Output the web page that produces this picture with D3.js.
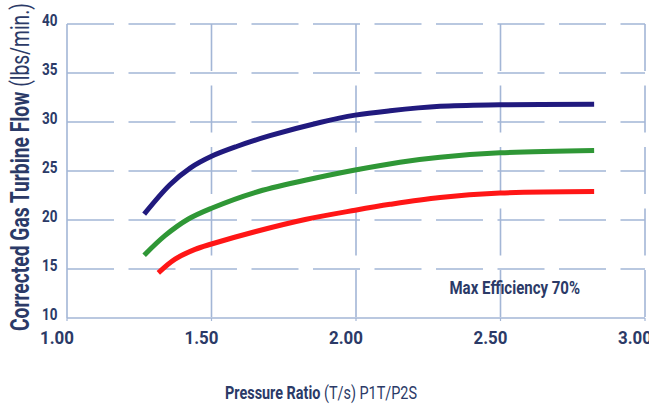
<!DOCTYPE html>
<html lang="en">
<head>
    <meta charset="UTF-8">
    <title>Corrected Gas Turbine Flow</title>
    <script type="text/javascript" src="https://cdn.jsdelivr.net/npm/d3@7"></script>
    <style type="text/css">
        body { margin: 0; background: #fff; }
        text { font-family: Roboto, "Liberation Sans", sans-serif; fill: #2b3a67; }
    </style>
</head>
<body>
    <script type="text/javascript">
        //Width and height
        var w = 649;
        var h = 406;
        var margin = { top: 24, right: 4, bottom: 88, left: 67 };

        //Data (pressure ratio, flow)
        var blueX  = [1.267, 1.356, 1.426, 1.50, 1.587, 1.702, 1.875, 1.997, 2.118, 2.291, 2.498, 2.824];
        var blueY  = [20.6, 23.6, 25.3, 26.5, 27.5, 28.6, 29.95, 30.7, 31.15, 31.6, 31.75, 31.8];
        var greenX = [1.267, 1.339, 1.42, 1.50, 1.65, 1.824, 1.997, 2.152, 2.291, 2.498, 2.824];
        var greenY = [16.4, 18.4, 20.1, 21.2, 22.8, 24.05, 25.1, 25.9, 26.4, 26.85, 27.1];
        var redX   = [1.316, 1.374, 1.443, 1.50, 1.65, 1.824, 1.997, 2.118, 2.291, 2.498, 2.824];
        var redY   = [14.6, 16.0, 17.0, 17.55, 18.8, 20.05, 21.0, 21.6, 22.3, 22.75, 22.9];

        var xTicks = [1.0, 1.5, 2.0, 2.5, 3.0];
        var yTicks = [10, 15, 20, 25, 30, 35, 40];

        var series = [
            { xs: blueX,  ys: blueY,  color: "#211a7e" },
            { xs: greenX, ys: greenY, color: "#2f9736" },
            { xs: redX,   ys: redY,   color: "#ff1616" }
        ];

        var xScale = d3.scaleLinear()
            .domain([1, 3])
            .range([margin.left, w - margin.right]);

        var yScale = d3.scaleLinear()
            .domain([10, 40])
            .range([h - margin.bottom, margin.top]);

        //Create SVG element
        var svg = d3.select("body")
            .append("svg")
            .attr("width", w)
            .attr("height", h);

        var gridColor = "#a3b6d6";

        //horizontal grid (dashed)
        svg.selectAll("line.hgrid")
            .data(yTicks.slice(1))
            .enter()
            .append("line")
            .attr("class", "hgrid")
            .attr("x1", xScale(1))
            .attr("x2", xScale(3))
            .attr("y1", function(d) { return yScale(d); })
            .attr("y2", function(d) { return yScale(d); })
            .attr("stroke", gridColor)
            .attr("stroke-width", 1.6)
            .attr("stroke-dasharray", "47,14.5");

        //vertical grid (dashed)
        svg.selectAll("line.vgrid")
            .data(xTicks.slice(1))
            .enter()
            .append("line")
            .attr("class", "vgrid")
            .attr("x1", function(d) { return xScale(d); })
            .attr("x2", function(d) { return xScale(d); })
            .attr("y1", yScale(40))
            .attr("y2", yScale(10))
            .attr("stroke", gridColor)
            .attr("stroke-width", 1.6)
            .attr("stroke-dasharray", "47,14.5");

        //small ticks under x axis
        svg.selectAll("line.xtick")
            .data(xTicks)
            .enter()
            .append("line")
            .attr("x1", function(d) { return xScale(d); })
            .attr("x2", function(d) { return xScale(d); })
            .attr("y1", yScale(10))
            .attr("y2", yScale(10) + 3)
            .attr("stroke", gridColor)
            .attr("stroke-width", 1.2);

        //axes lines
        svg.append("line")
            .attr("x1", xScale(1)).attr("x2", xScale(1))
            .attr("y1", yScale(40)).attr("y2", yScale(10))
            .attr("stroke", gridColor).attr("stroke-width", 1.6);
        svg.append("line")
            .attr("x1", xScale(1)).attr("x2", xScale(3))
            .attr("y1", yScale(10)).attr("y2", yScale(10))
            .attr("stroke", gridColor).attr("stroke-width", 1.6);

        //curves
        var line = d3.line()
            .x(function(d) { return xScale(d[0]); })
            .y(function(d) { return yScale(d[1]); })
            .curve(d3.curveCatmullRom.alpha(0.5));

        svg.selectAll("path.curve")
            .data(series)
            .enter()
            .append("path")
            .attr("class", "curve")
            .attr("d", function(s) { return line(d3.zip(s.xs, s.ys)); })
            .attr("fill", "none")
            .attr("stroke", function(s) { return s.color; })
            .attr("stroke-width", 5);

        //tick labels
        svg.selectAll("text.ylab")
            .data(yTicks)
            .enter()
            .append("text")
            .attr("class", "ylab")
            .text(function(d) { return d; })
            .attr("x", 57.5)
            .attr("y", function(d) { return yScale(d) + 1.5; })
            .attr("text-anchor", "end")
            .attr("font-size", "17px")
            .attr("font-weight", "bold")
            .attr("textLength", 15.5)
            .attr("lengthAdjust", "spacingAndGlyphs");

        svg.selectAll("text.xlab")
            .data(xTicks)
            .enter()
            .append("text")
            .attr("class", "xlab")
            .text(function(d) { return d.toFixed(2); })
            .attr("x", function(d) { return xScale(d) - 10; })
            .attr("y", 344)
            .attr("text-anchor", "middle")
            .attr("font-size", "19px")
            .attr("font-weight", "bold")
            .attr("textLength", 34)
            .attr("lengthAdjust", "spacingAndGlyphs");

        //y axis title
        var yTitle = svg.append("text")
            .attr("transform", "translate(28.5,331) rotate(-90)")
            .attr("font-size", "26px")
            .attr("textLength", 328)
            .attr("lengthAdjust", "spacingAndGlyphs");
        yTitle.append("tspan").attr("font-weight", "bold").text("Corrected Gas Turbine Flow ");
        yTitle.append("tspan").text("(lbs/min.)");

        //x axis title
        var xTitle = svg.append("text")
            .attr("x", 225).attr("y", 399)
            .attr("font-size", "18.5px")
            .attr("textLength", 192)
            .attr("lengthAdjust", "spacingAndGlyphs");
        xTitle.append("tspan").attr("font-weight", "bold").text("Pressure Ratio ");
        xTitle.append("tspan").text("(T/s) P1T/P2S");

        //annotation
        svg.append("text")
            .text("Max Efficiency 70%")
            .attr("x", 449.5).attr("y", 293.5)
            .attr("font-size", "17.5px")
            .attr("font-weight", "bold")
            .attr("textLength", 130.5)
            .attr("lengthAdjust", "spacingAndGlyphs");
    </script>
</body>
</html>
